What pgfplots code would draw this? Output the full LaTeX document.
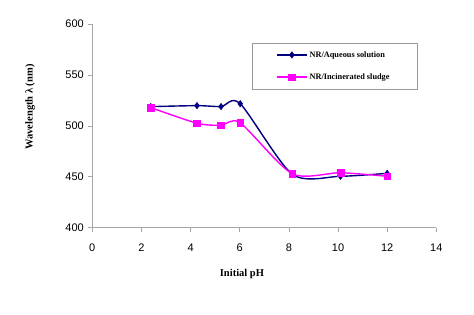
\documentclass[border=0pt]{standalone}
\usepackage{fontspec}
\setmainfont{Liberation Serif}
\newfontfamily\arialf{Liberation Sans}
\usepackage{pgfplots}
\pgfplotsset{compat=1.18}
\definecolor{navyb}{RGB}{0,0,128}
\definecolor{mag}{RGB}{255,0,255}
\begin{document}
\begin{tikzpicture}[x=1pt,y=1pt]
\useasboundingbox (0,0) rectangle (474,315);
\begin{axis}[
  at={(92.3pt,87.3pt)}, anchor=south west,
  scale only axis, width=344pt, height=203.6pt,
  xmin=0, xmax=14, ymin=400, ymax=600,
  xtick={0,2,...,14}, ytick={400,450,...,600},
  axis lines=left, axis line style={-, draw=gray!70, line width=0.6pt},
  tick style={draw=gray!70, line width=0.6pt},
  tick align=outside, major tick length=4pt,
  minor tick num=0,
  /pgf/number format/assume math mode=true,
  ticklabel style={font=\arialf\fontsize{11}{13}\selectfont, text=black},
  xticklabel style={yshift=-9pt},
  yticklabel style={xshift=-1pt},
  xlabel={\textbf{Initial pH}},
  ylabel={\textbf{Wavelength λ (nm)}},
  xlabel style={at={(rel axis cs:0.435,-0.227)}, anchor=center, font=\fontsize{10.5}{12}\selectfont},
  ylabel style={at={(rel axis cs:-0.181,0.593)}, anchor=center, rotate=0, font=\fontsize{10.5}{12}\selectfont},
  clip=false,
  legend style={at={(rel axis cs:0.464,0.907)}, anchor=north west,
    draw=gray!80, line width=0.5pt, font=\bfseries\fontsize{8.3}{10}\selectfont,
    inner xsep=0pt, inner ysep=6pt, row sep=11pt, legend cell align=left},
  legend image code/.code={
    \path (0pt,0pt);
    \draw[#1, mark=none] (24pt,0pt) -- (54pt,0pt);
    \draw[#1, only marks] plot coordinates {(39pt,0pt)};
  },
]
\addplot[navyb, line width=1.4pt, smooth, tension=0.45, mark=diamond*, mark size=3.2pt, mark options={fill=navyb, line width=0.5pt}]
coordinates {(2.38,518.9) (4.26,519.9) (5.24,519.0) (6.02,521.8) (8.14,452.5) (10.10,450.5) (12.00,453.4)};
\addlegendentry{NR/Aqueous solution\hspace*{30pt}}
\addplot[mag, line width=1.4pt, smooth, tension=0.45, mark=square*, mark size=3.4pt, mark options={fill=mag, line width=0.5pt}]
coordinates {(2.38,518.0) (4.26,502.6) (5.24,500.6) (6.02,503.0) (8.14,453.0) (10.10,454.0) (12.00,450.5)};
\addlegendentry{NR/Incinerated sludge}
\end{axis}
\end{tikzpicture}
\end{document}
